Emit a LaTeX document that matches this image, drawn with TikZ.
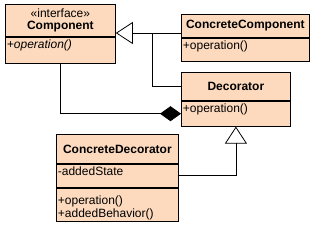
\documentclass[tikz,border=0pt]{standalone}
\usepackage{fontspec}
\setmainfont{Liberation Sans}
\usetikzlibrary{arrows.meta, positioning}
\definecolor{peach}{RGB}{253,218,190}

\begin{document}
\begin{tikzpicture}[x=1pt, y=-1pt, line width=0.8pt,
        hdr/.style={draw, fill=peach, anchor=north west, inner sep=1pt,
                    align=center, font=\fontsize{12}{12.5}\selectfont\bfseries},
        cmp/.style={draw, fill=peach, inner xsep=1.5pt, inner ysep=1pt,
                    text height=10pt, align=left, font=\fontsize{12}{13}\selectfont},
        gen/.style={-{Triangle[open, length=17pt, width=22pt]}},
        agg/.style={-{Diamond[length=21pt, width=15pt]}}
      ]
        \useasboundingbox (0,0) rectangle (315,225);
        % Component
        \node[hdr, minimum width=110pt, minimum height=32pt] (comp) at (5,4)
          {{\mdseries «interface»}\\Component};
        \node[cmp, text width=107pt, text depth=14pt, below=0pt of comp]
          (compops) {\textit{+operation()}};
        % ConcreteComponent
        \node[hdr, minimum width=128pt, minimum height=23pt] (cc) at (181,14)
          {ConcreteComponent};
        \node[cmp, text width=125pt, text depth=11pt, below=0pt of cc]
          (ccops) {+operation()};
        % Decorator
        \node[hdr, minimum width=109pt, minimum height=28pt] (dec) at (181,72)
          {Decorator};
        \node[cmp, text width=106pt, text depth=13pt, below=0pt of dec]
          (decops) {+operation()};
        % ConcreteDecorator
        \node[hdr, minimum width=122pt, minimum height=29pt] (cd) at (56,134)
          {ConcreteDecorator};
        \node[cmp, text width=119pt, text depth=11pt, below=0pt of cd]
          (cdattr) {-addedState};
        \node[cmp, text width=119pt, text height=0pt, text depth=0pt,
              minimum height=33pt, below=0pt of cdattr]
          (cdops) {+operation()\\+addedBehavior()};
        % connectors
        \coordinate (jn) at (152,33);
        \draw[gen] (cc.west |- jn) -- (comp.east |- jn);
        \draw (dec.west) -| (jn);
        \draw[agg] (compops.south) |- (decops.west);
        \draw[gen] (cdattr.east) -| (decops.south);
      \end{tikzpicture}
\end{document}
